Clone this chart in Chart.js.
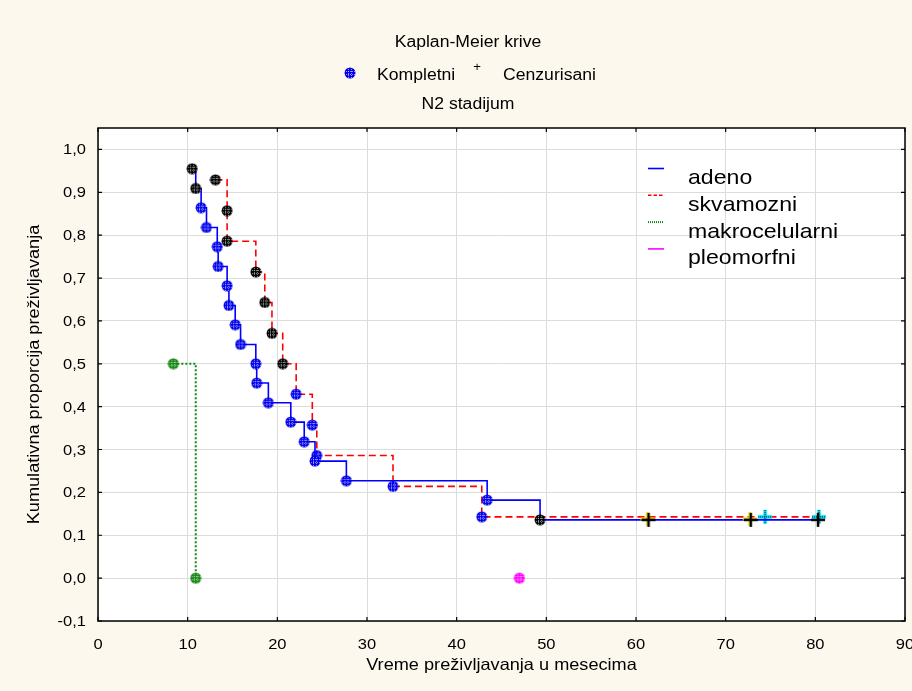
<!DOCTYPE html>
<html>
<head>
<meta charset="utf-8">
<script src="https://cdn.jsdelivr.net/npm/chart.js@4.4.0/dist/chart.umd.min.js"></script>
<style>
  html, body { margin: 0; padding: 0; background: #fdf8ee; }
  #wrap { width: 912px; height: 691px; }
</style>
</head>
<body>
<div id="wrap"><canvas id="kmChart" width="912" height="691"></canvas></div>
<script>
// Kaplan-Meier estimates, N2 stage, by histology (time in months)
const adenoTime = [10.5, 10.9, 11.5, 12.1, 13.3, 13.4, 14.4, 14.6, 15.3, 15.9, 17.6, 17.7, 19.0, 21.5, 23.0, 24.2, 27.7, 43.4, 49.3, 61.4, 72.8, 80.3];
const adenoSurv = [0.955, 0.909, 0.864, 0.818, 0.773, 0.727, 0.682, 0.636, 0.591, 0.545, 0.500, 0.455, 0.409, 0.364, 0.318, 0.273, 0.227, 0.182, 0.136, 0.136, 0.136, 0.136];
const adenoCensored = [0, 0, 0, 0, 0, 0, 0, 0, 0, 0, 0, 0, 0, 0, 0, 0, 0, 0, 0, 1, 1, 1];

const skvamTime = [13.1, 14.4, 14.4, 17.6, 18.6, 19.4, 20.6, 22.1, 23.9, 24.4, 32.9, 42.8, 74.4, 80.4];
const skvamSurv = [0.929, 0.857, 0.786, 0.714, 0.643, 0.571, 0.500, 0.429, 0.357, 0.286, 0.214, 0.143, 0.143, 0.143];
const skvamCensored = [0, 0, 0, 0, 0, 0, 0, 0, 0, 0, 0, 0, 1, 1];

const makroTime = [8.4, 10.9];
const makroSurv = [0.5, 0.0];

const pleoTime = [47.0];
const pleoSurv = [0.0];

const groupNames = ['adeno', 'skvamozni', 'makrocelularni', 'pleomorfni'];

const xTicks = [0, 10, 20, 30, 40, 50, 60, 70, 80, 90];
const yTicks = [-0.1, 0.0, 0.1, 0.2, 0.3, 0.4, 0.5, 0.6, 0.7, 0.8, 0.9, 1.0];
const yTickLabels = ['-0,1', '0,0', '0,1', '0,2', '0,3', '0,4', '0,5', '0,6', '0,7', '0,8', '0,9', '1,0'];

const FONT = '"Liberation Sans", Arial, sans-serif';
const BG = '#fdf8ee';

// hatched round marker for complete observations
function dotMark(color) {
  const c = document.createElement('canvas');
  c.width = 12; c.height = 12;
  const g = c.getContext('2d');
  g.fillStyle = color;
  g.beginPath(); g.arc(6, 6, 5.5, 0, Math.PI * 2); g.fill();
  g.globalCompositeOperation = 'source-atop';
  g.strokeStyle = 'rgba(255,255,255,0.6)';
  g.lineWidth = 1;
  g.setLineDash([1, 1]);
  [4.5, 7.5].forEach(p => {
    g.beginPath(); g.moveTo(p, 0); g.lineTo(p, 12); g.stroke();
    g.beginPath(); g.moveTo(0, p); g.lineTo(12, p); g.stroke();
  });
  return c;
}

// plus marker for censored observations
function crossMark(edge, core) {
  const c = document.createElement('canvas');
  c.width = 18; c.height = 18;
  const g = c.getContext('2d');
  const plus = (cx, cy, w) => {
    g.lineWidth = w;
    g.beginPath();
    g.moveTo(cx - 7, cy); g.lineTo(cx + 7, cy);
    g.moveTo(cx, cy - 7); g.lineTo(cx, cy + 7);
    g.stroke();
  };
  if (edge === 'cyan') {
    g.strokeStyle = '#00e5ff'; plus(9, 9, 3.5);
    g.strokeStyle = '#000'; g.setLineDash([1, 1]); plus(9, 9, 1);
  } else if (edge) {
    g.strokeStyle = edge; plus(8, 8, 3);
    g.strokeStyle = core; plus(9, 9, 2.5);
  } else {
    g.strokeStyle = core; plus(9, 9, 2.5);
  }
  return c;
}

const dotBlue = dotMark('#0000ee');
const dotBlack = dotMark('#000000');
const dotGreen = dotMark('#118811');
const dotPink = dotMark('#ff00ff');
const crossYellow = crossMark('#f5e600', '#000');
const crossCyan = crossMark('cyan', '#000');
const crossBlack = crossMark(null, '#000');

function toPoints(times, surv) {
  return times.map((t, i) => ({ x: t, y: surv[i] }));
}

// marker per point: events are dots, censored cases are crosses
const adenoMarks = adenoTime.map((t, i) => {
  if (adenoCensored[i]) return i === adenoTime.length - 1 ? crossBlack : crossYellow;
  return (i < 2 || i === 18) ? dotBlack : dotBlue;
});
const skvamMarks = skvamTime.map((t, i) => {
  if (skvamCensored[i]) return crossCyan;
  return i < 7 ? dotBlack : dotBlue;
});

const lineStyles = [
  { color: '#0000ff', dash: [], width: 1.6 },
  { color: '#ff0000', dash: [7, 4], width: 1.6 },
  { color: '#118811', dash: [2, 2], width: 2 },
  { color: '#ff00ff', dash: [], width: 1.6 }
];

function drawText(ctx, str, x, y, size, align, rotate) {
  ctx.save();
  ctx.translate(x, y);
  if (rotate) ctx.rotate(-Math.PI / 2);
  ctx.scale(1.1, 1);
  ctx.font = size + 'px ' + FONT;
  ctx.fillStyle = '#000';
  ctx.textAlign = align;
  ctx.textBaseline = 'alphabetic';
  ctx.fillText(str, 0, 0);
  ctx.restore();
}

const frame = {
  id: 'frame',
  beforeDraw(chart) {
    const { ctx, chartArea: a } = chart;
    ctx.save();
    ctx.fillStyle = BG;
    ctx.fillRect(0, 0, chart.width, chart.height);
    ctx.fillStyle = '#ffffff';
    ctx.fillRect(a.left, a.top, a.right - a.left, a.bottom - a.top);
    ctx.restore();
  },
  afterDraw(chart) {
    const { ctx, chartArea: a, scales } = chart;
    const xs = scales.x, ys = scales.y;
    ctx.save();
    // frame and inner tick marks
    ctx.strokeStyle = '#000';
    ctx.lineWidth = 1.5;
    ctx.strokeRect(a.left, a.top, a.right - a.left, a.bottom - a.top);
    ctx.lineWidth = 1.2;
    ctx.beginPath();
    xTicks.forEach(v => {
      const px = xs.getPixelForValue(v);
      ctx.moveTo(px, a.bottom); ctx.lineTo(px, a.bottom - 4);
      ctx.moveTo(px, a.top); ctx.lineTo(px, a.top + 4);
    });
    yTicks.forEach(v => {
      const py = ys.getPixelForValue(v);
      ctx.moveTo(a.left, py); ctx.lineTo(a.left + 4, py);
      ctx.moveTo(a.right, py); ctx.lineTo(a.right - 4, py);
    });
    ctx.stroke();

    // tick labels
    xTicks.forEach(v => drawText(ctx, String(v), xs.getPixelForValue(v), 649, 15, 'center'));
    yTicks.forEach((v, i) => drawText(ctx, yTickLabels[i], 86, ys.getPixelForValue(v) + 5, 15, 'right'));

    // axis titles
    drawText(ctx, 'Vreme preživljavanja u mesecima', (a.left + a.right) / 2, 670, 16.5, 'center');
    drawText(ctx, 'Kumulativna proporcija preživljavanja', 39, (a.top + a.bottom) / 2, 16.5, 'center', true);

    // header
    drawText(ctx, 'Kaplan-Meier krive', 468, 46.5, 16, 'center');
    ctx.drawImage(dotBlue, 344, 67);
    drawText(ctx, 'Kompletni', 377, 79.5, 16, 'left');
    drawText(ctx, '+', 477, 71, 12, 'center');
    drawText(ctx, 'Cenzurisani', 503, 79.5, 16, 'left');
    drawText(ctx, 'N2 stadijum', 468, 108.5, 16, 'center');

    // legend inside the plot
    chart.data.datasets.forEach((ds, i) => {
      const base = 184 + i * 26.8;
      const st = lineStyles[i];
      ctx.save();
      ctx.strokeStyle = st.color;
      ctx.lineWidth = st.width;
      ctx.setLineDash(st.dash.length ? st.dash.map(d => Math.max(1, d / 2)) : []);
      ctx.beginPath();
      ctx.moveTo(648, base - 15.5);
      ctx.lineTo(664, base - 15.5);
      ctx.stroke();
      ctx.restore();
      drawText(ctx, ds.label, 688, base, 21, 'left');
    });
    ctx.restore();
  }
};

function seriesDataset(i, pts, marks, showLine) {
  const st = lineStyles[i];
  return {
    label: groupNames[i],
    data: pts,
    showLine: showLine,
    stepped: true,
    borderColor: st.color,
    borderWidth: st.width,
    borderDash: st.dash,
    pointStyle: marks,
    pointRadius: 5,
    pointHoverRadius: 5,
    backgroundColor: st.color,
    fill: false,
    clip: 10
  };
}

new Chart(document.getElementById('kmChart'), {
  type: 'scatter',
  data: {
    datasets: [
      seriesDataset(0, toPoints(adenoTime, adenoSurv), adenoMarks, true),
      seriesDataset(1, toPoints(skvamTime, skvamSurv), skvamMarks, true),
      seriesDataset(2, toPoints(makroTime, makroSurv), makroTime.map(() => dotGreen), true),
      seriesDataset(3, toPoints(pleoTime, pleoSurv), pleoTime.map(() => dotPink), false)
    ]
  },
  options: {
    responsive: false,
    animation: false,
    devicePixelRatio: 1,
    layout: { padding: { top: 128, left: 98, right: 5, bottom: 70 } },
    plugins: {
      legend: { display: false },
      tooltip: { enabled: false },
      title: { display: false }
    },
    scales: {
      x: {
        type: 'linear',
        min: 0,
        max: 90,
        ticks: { display: false, stepSize: 10 },
        afterBuildTicks: s => { s.ticks = xTicks.map(v => ({ value: v })); },
        afterFit: s => { s.height = 0; },
        grid: { color: '#dcdcdc', lineWidth: 1, drawTicks: false },
        border: { display: false }
      },
      y: {
        type: 'linear',
        min: -0.1,
        max: 1.05,
        ticks: { display: false },
        afterBuildTicks: s => { s.ticks = yTicks.map(v => ({ value: v })); },
        afterFit: s => { s.width = 0; },
        grid: { color: '#dcdcdc', lineWidth: 1, drawTicks: false },
        border: { display: false }
      }
    }
  },
  plugins: [frame]
});
</script>
</body>
</html>
